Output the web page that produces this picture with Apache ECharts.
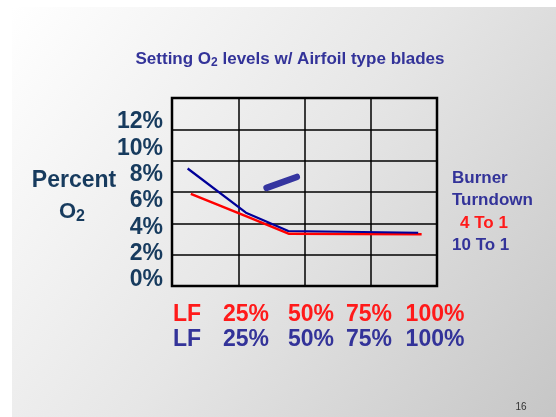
<!DOCTYPE html>
<html>
<head>
<meta charset="utf-8">
<script src="https://cdn.jsdelivr.net/npm/echarts@6/dist/echarts.min.js"></script>
<style>
  html, body { margin: 0; padding: 0; background: #ffffff; }
  #chart { width: 556px; height: 417px; }
</style>
</head>
<body>
<div id="chart"></div>
<script>
// Load factor (%) along the x axis, O2 (%) along the y axis
const turndown4to1_LF = [7.1, 27.9, 44.2, 94.2];
const turndown4to1_O2 = [5.88, 4.46, 3.33, 3.30];
const turndown10to1_LF = [5.9, 27.9, 43.9, 92.9];
const turndown10to1_O2 = [7.50, 4.68, 3.51, 3.40];
// short hand-drawn stroke inside the plot
const strokeLF = [35.7, 47.1];
const strokeO2 = [6.26, 6.96];

const yTicks = [0, 2, 4, 6, 8, 10, 12];
const lfLabels = ['LF', '25%', '50%', '75%', '100%'];
const legendLines = ['Burner', 'Turndown', '4 To 1', '10 To 1'];

const FONT = '"Liberation Sans", Arial, sans-serif';
const NAVY = '#173b5e';
const BLUE = '#333399';
const RED = '#ff1a1a';

const pairs = (xs, ys) => xs.map((x, i) => [x, ys[i]]);

// layout of the LF label rows
const lfX = [187, 246, 311, 369, 435];
const lfRows = [
  { y: 315, color: RED },
  { y: 340, color: BLUE }
];

const graphics = [
  // slide background
  { type: 'rect', shape: { x: 0, y: 0, width: 556, height: 417 }, style: { fill: '#ffffff' }, z: -10, silent: true },
  { type: 'rect', shape: { x: 12, y: 7, width: 544, height: 410 },
    style: { fill: new echarts.graphic.LinearGradient(0, 0, 1, 1, [
      { offset: 0, color: '#ffffff' },
      { offset: 0.5, color: '#e6e6e6' },
      { offset: 1, color: '#c6c6c6' }
    ]) }, z: -9, silent: true },
  // title
  { type: 'text', x: 290, y: 59, z: 10,
    style: { text: '{a|Setting O}{s|2}{a| levels w/ Airfoil type blades}', align: 'center', verticalAlign: 'middle',
      rich: { a: { font: 'bold 17px ' + FONT, fill: BLUE }, s: { font: 'bold 12px ' + FONT, fill: BLUE, padding: [8, 0, 0, 0] } } } },
  // y axis title
  { type: 'text', x: 74, y: 181, z: 10,
    style: { text: 'Percent', font: 'bold 23px ' + FONT, fill: NAVY, align: 'center', verticalAlign: 'middle' } },
  { type: 'text', x: 72, y: 212, z: 10,
    style: { text: '{a|O}{s|2}', align: 'center', verticalAlign: 'middle',
      rich: { a: { font: 'bold 22px ' + FONT, fill: NAVY }, s: { font: 'bold 16px ' + FONT, fill: NAVY, padding: [10, 0, 0, 0] } } } },
  // page number
  { type: 'text', x: 521, y: 407, z: 10,
    style: { text: '16', font: '10px ' + FONT, fill: '#333333', align: 'center', verticalAlign: 'middle' } }
];

// LF label rows
lfRows.forEach(row => {
  lfLabels.forEach((t, i) => {
    graphics.push({ type: 'text', x: lfX[i], y: row.y, z: 10,
      style: { text: t, font: 'bold 23px ' + FONT, fill: row.color, align: 'center', verticalAlign: 'middle' } });
  });
});

// turndown legend
const legendPos = [[452, 178, BLUE], [452, 200, BLUE], [460, 223, RED], [452, 245, BLUE]];
legendLines.forEach((t, i) => {
  graphics.push({ type: 'text', x: legendPos[i][0], y: legendPos[i][1], z: 10,
    style: { text: t, font: 'bold 17px ' + FONT, fill: legendPos[i][2], align: 'left', verticalAlign: 'middle' } });
});

const chart = echarts.init(document.getElementById('chart'), null, { renderer: 'canvas' });

chart.setOption({
  backgroundColor: 'transparent',
  animation: false,
  graphic: graphics,
  grid: [
    { left: 172, top: 98, width: 265, height: 188, show: true, borderColor: '#000', borderWidth: 2.5, backgroundColor: 'transparent' },
    { left: 172, top: 122, width: 10, height: 158, show: false }
  ],
  xAxis: [
    { type: 'value', gridIndex: 0, min: 0, max: 100, interval: 25,
      axisLine: { show: false }, axisTick: { show: false }, axisLabel: { show: false },
      splitLine: { show: true, lineStyle: { color: '#000', width: 1.5 } } },
    { type: 'value', gridIndex: 1, min: 0, max: 1, show: false }
  ],
  yAxis: [
    { type: 'value', gridIndex: 0, min: 0, max: 12, interval: 2,
      axisLine: { show: false }, axisTick: { show: false }, axisLabel: { show: false },
      splitLine: { show: true, lineStyle: { color: '#000', width: 1.5 } } },
    { type: 'value', gridIndex: 1, min: yTicks[0], max: yTicks[yTicks.length - 1], interval: 2,
      axisLine: { show: false }, axisTick: { show: false }, splitLine: { show: false },
      axisLabel: { show: true, margin: 9, formatter: '{value}%', color: NAVY, fontFamily: FONT, fontWeight: 'bold', fontSize: 23 } }
  ],
  series: [
    { name: '4 To 1', type: 'line', xAxisIndex: 0, yAxisIndex: 0, data: pairs(turndown4to1_LF, turndown4to1_O2),
      symbol: 'none', lineStyle: { color: '#ff0000', width: 2.5 }, z: 3 },
    { name: '10 To 1', type: 'line', xAxisIndex: 0, yAxisIndex: 0, data: pairs(turndown10to1_LF, turndown10to1_O2),
      symbol: 'none', lineStyle: { color: '#000099', width: 2.2 }, z: 4 },
    { name: 'stroke', type: 'line', xAxisIndex: 0, yAxisIndex: 0, data: pairs(strokeLF, strokeO2),
      symbol: 'none', lineStyle: { color: '#3535a0', width: 6.5, cap: 'round' }, z: 5 }
  ]
});
</script>
</body>
</html>
